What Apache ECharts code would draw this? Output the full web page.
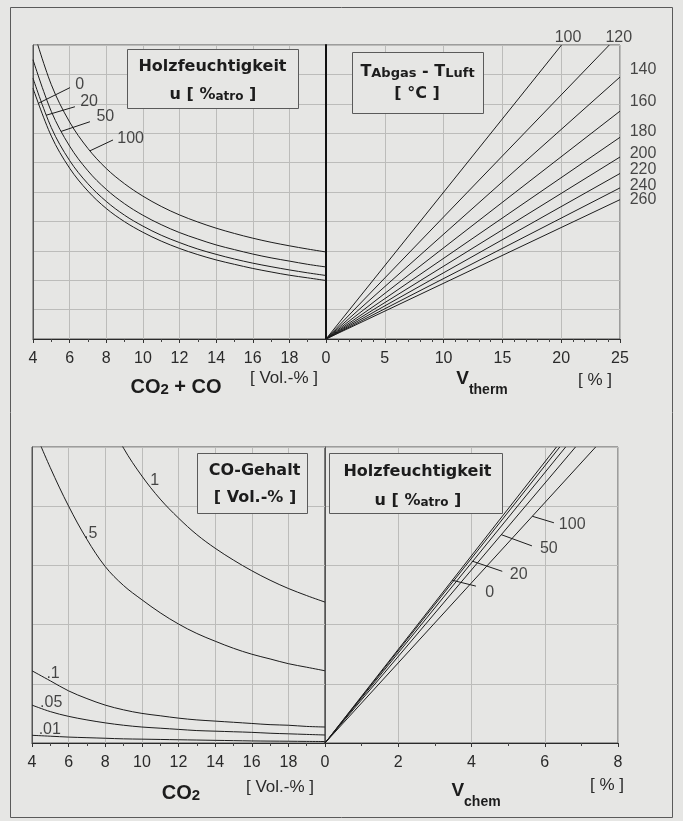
<!DOCTYPE html>
<html><head><meta charset="utf-8">
<script src="https://cdn.jsdelivr.net/npm/echarts@6/dist/echarts.min.js"></script>
<style>html,body{margin:0;padding:0;background:#e6e6e4;}#c{width:683px;height:821px;}</style>
</head><body><div id="c"></div>
<script>
// ---------- DATA ----------
// Top-left: CO2+CO [Vol.-%] vs. auxiliary scale, one curve per wood moisture u [%atro]
const tlX = [4,5,6,7,8,9,10,11,12,13,14,15,16,17,18,19,20];
const tlNames = ['0','20','50','100'];
const tlU0   = [8.53,6.90,5.81,5.03,4.44,3.99,3.63,3.33,3.08,2.87,2.69,2.54,2.40,2.28,2.17,2.08,1.99];
const tlU20  = [8.87,7.19,6.07,5.28,4.68,4.21,3.84,3.53,3.28,3.06,2.88,2.72,2.58,2.46,2.35,2.25,2.16];
const tlU50  = [9.50,7.74,6.56,5.72,5.09,4.60,4.21,3.89,3.62,3.40,3.20,3.04,2.89,2.76,2.65,2.54,2.45];
const tlU100 = [10.54,8.65,7.38,6.48,5.80,5.28,4.86,4.51,4.22,3.98,3.77,3.59,3.43,3.29,3.17,3.06,2.96];
const tlLabelX = [6.55,7.06,7.95,9.33];
const tlLabelY = [8.65,8.08,7.55,6.83];
const tlLeaders = [[4.27,8.01,6.02,8.55],[4.71,7.61,6.29,7.90],[5.53,7.06,7.11,7.39],[7.11,6.40,8.37,6.77]];

// Top-right: V_therm [%], rays for T_Abgas - T_Luft [°C]
const trNames = ['100','120','140','160','180','200','220','240','260'];
const trEndX = [20.03,24.09,25,25,25,25,25,25,25];
const trEndY = [10,10,8.91,7.75,6.86,6.19,5.63,5.14,4.74];
const trLabelX = [20.58,24.9,26.96,26.96,26.96,26.96,26.96,26.96,26.96];
const trLabelY = [10.26,10.26,9.16,8.07,7.05,6.30,5.75,5.21,4.73];

// Bottom-left: CO2 [Vol.-%], one curve per CO content [Vol.-%]
const blX = [4,5,6,7,8,9,10,11,12,13,14,15,16,17,18,19,20];
const blNames = ['1','.5','.1','.05','.01'];
const blCO1   = [null,null,null,null,5.58,4.98,4.51,4.12,3.80,3.52,3.29,3.09,2.91,2.75,2.61,2.49,2.38];
const blCO05  = [5.37,4.65,4.00,3.44,2.98,2.66,2.42,2.20,2.01,1.85,1.72,1.60,1.50,1.42,1.34,1.28,1.22];
const blCO01  = [1.22,1.05,0.88,0.75,0.64,0.56,0.50,0.46,0.42,0.39,0.37,0.35,0.33,0.31,0.30,0.28,0.27];
const blCO005 = [0.64,0.53,0.45,0.39,0.34,0.30,0.27,0.25,0.23,0.21,0.20,0.19,0.18,0.165,0.155,0.145,0.135];
const blCO001 = [0.13,0.115,0.10,0.09,0.08,0.07,0.065,0.06,0.055,0.05,0.045,0.04,0.035,0.032,0.03,0.027,0.025];
const blLabelX = [10.70,7.21,5.15,5.05,4.97];
const blLabelY = [4.43,3.54,1.17,0.69,0.23];

// Bottom-right: V_chem [%], rays for wood moisture u [%atro]
const brLines = ['0','(unlabelled)','20','50','100'];
const brEndX = [6.32,6.41,6.57,6.84,7.39];
const brEndY = [5,5,5,5,5];
const brNames = ['0','20','50','100'];
const brLabelX = [4.50,5.29,6.11,6.75];
const brLabelY = [2.54,2.84,3.29,3.69];
const brLeaders = [[3.47,2.75,4.12,2.65],[4.03,3.07,4.84,2.90],[4.81,3.52,5.65,3.33],[5.66,3.83,6.25,3.72]];

// ---------- STYLE ----------
const BG = '#e6e6e4';
const INK = '#1c1c1c';
const GRIDC = '#bcbcba';
const FONT = '"Liberation Sans", Arial, sans-serif';
const BOXFONT = '"DejaVu Sans", sans-serif';

function pairs(xs, ys){ const out=[]; xs.forEach((x,i)=>{ if(ys[i]!=null) out.push([x,ys[i]]); }); return out; }
function curve(name, xs, ys, gi){
  return {type:'line', name, xAxisIndex:gi, yAxisIndex:gi, data:pairs(xs,ys), symbol:'none',
    smooth:0.35, lineStyle:{color:INK,width:1}, silent:true, z:3, emphasis:{disabled:true}};
}
function ray(name, ex, ey, gi){
  return {type:'line', name, xAxisIndex:gi, yAxisIndex:gi, data:[[0,0],[ex,ey]], symbol:'none',
    lineStyle:{color:INK,width:1}, silent:true, z:3, emphasis:{disabled:true}};
}
function leaders(list, gi){
  return list.map(l=>({type:'line', xAxisIndex:gi, yAxisIndex:gi, data:[[l[0],l[1]],[l[2],l[3]]], symbol:'none',
    lineStyle:{color:INK,width:1}, silent:true, z:3, clip:false, emphasis:{disabled:true}}));
}
function labels(names, xs, ys, gi){
  return {type:'scatter', xAxisIndex:gi, yAxisIndex:gi, symbolSize:0, clip:false, silent:true,
    itemStyle:{color:'rgba(0,0,0,0)'}, emphasis:{disabled:true},
    data:names.map((n,i)=>({name:n, value:[xs[i],ys[i]]})),
    label:{show:true, position:'inside', formatter:'{b}', fontFamily:FONT, fontSize:16, color:INK}, z:6};
}
function xAx(gi,min,max,interval,minorSplit,fmt){
  return {gridIndex:gi, type:'value', min, max, interval,
    axisLine:{show:true, onZero:false, lineStyle:{color:'#2a2a2a', width:1}},
    axisTick:{show:true, length:4, lineStyle:{color:'#333'}},
    minorTick:{show:true, splitNumber:minorSplit, length:3, lineStyle:{color:'#444'}},
    splitLine:{show:true, lineStyle:{color:GRIDC, width:1}},
    axisLabel:{show:true, margin:12, fontFamily:FONT, fontSize:16, color:'#2a2a2a', formatter:fmt}};
}
function yAx(gi,max,lineColor,lineWidth){
  return {gridIndex:gi, type:'value', min:0, max, interval:1,
    axisLine:{show:true, onZero:false, lineStyle:{color:lineColor, width:lineWidth}},
    axisTick:{show:false}, axisLabel:{show:false},
    splitLine:{show:true, lineStyle:{color:GRIDC, width:1}}};
}

const series = [];
[tlU0,tlU20,tlU50,tlU100].forEach((ys,i)=>series.push(curve('u='+tlNames[i], tlX, ys, 0)));
series.push(...leaders(tlLeaders,0));
series.push(labels(tlNames, tlLabelX, tlLabelY, 0));
trNames.forEach((n,i)=>series.push(ray('dT='+n, trEndX[i], trEndY[i], 1)));
series.push(labels(trNames, trLabelX, trLabelY, 1));
[blCO1,blCO05,blCO01,blCO005,blCO001].forEach((ys,i)=>series.push(curve('CO='+blNames[i], blX, ys, 2)));
series.push(labels(blNames, blLabelX, blLabelY, 2));
brLines.forEach((n,i)=>series.push(ray('u='+n, brEndX[i], brEndY[i], 3)));
series.push(...leaders(brLeaders,3));
series.push(labels(brNames, brLabelX, brLabelY, 3));

function box(x,y,w,h){ return {type:'rect', shape:{x:x+0.5,y:y+0.5,width:w,height:h}, style:{fill:BG, stroke:'#5a5a5a', lineWidth:1}, z:20, silent:true}; }
function txt(x,y,text,rich){
  return {type:'text', x, y, z:21, silent:true,
    style:{text, rich, align:'center', verticalAlign:'middle', fill:INK, fontFamily:BOXFONT, fontWeight:'bold', fontSize:16}};
}
const boxRich = {
  a:{fontFamily:BOXFONT, fontWeight:'bold', fontSize:16, lineHeight:20, verticalAlign:'bottom', fill:INK},
  s:{fontFamily:BOXFONT, fontWeight:'bold', fontSize:12, lineHeight:19, verticalAlign:'bottom', fill:INK},
  t:{fontFamily:BOXFONT, fontWeight:'bold', fontSize:13, lineHeight:19, verticalAlign:'bottom', fill:INK}
};
const titleRich = {
  m:{fontFamily:FONT, fontWeight:'bold', fontSize:20, lineHeight:22, verticalAlign:'bottom', fill:INK},
  s:{fontFamily:FONT, fontWeight:'bold', fontSize:15, lineHeight:16, verticalAlign:'bottom', fill:INK},
  v:{fontFamily:FONT, fontWeight:'bold', fontSize:19, lineHeight:28, verticalAlign:'top', fill:INK},
  w:{fontFamily:FONT, fontWeight:'bold', fontSize:14, lineHeight:17, verticalAlign:'bottom', fill:INK}
};
function unit(x,y,text){
  return {type:'text', x, y, z:21, silent:true, style:{text, align:'center', verticalAlign:'middle', fill:'#2a2a2a', fontFamily:FONT, fontSize:17}};
}

const graphic = [
  {type:'rect', shape:{x:10.5,y:7.5,width:662,height:810}, style:{fill:'none', stroke:'#5a5a5a', lineWidth:1}, z:1, silent:true},
  box(127,49,171,59),
  txt(212.5,67,'Holzfeuchtigkeit'),
  txt(213,93,'{a|u [ %}{s|atro}{a| ]}',boxRich),
  box(352,52,131,61),
  txt(417.5,70,'{a|T}{t|Abgas}{a| - T}{t|Luft}',boxRich),
  txt(417,94,'[ °C ]'),
  box(197,453,110,60),
  txt(254.5,471,'CO-Gehalt'),
  txt(255,498,'[ Vol.-% ]'),
  box(329,453,173,60),
  txt(417.5,472,'Holzfeuchtigkeit'),
  txt(418,499,'{a|u [ %}{s|atro}{a| ]}',boxRich),
  // axis titles
  {type:'text', x:176, y:386, z:21, silent:true, style:{text:'{m|CO}{s|2}{m| + CO}', rich:titleRich, align:'center', verticalAlign:'middle'}},
  unit(284,378,'[ Vol.-% ]'),
  {type:'text', x:482, y:383, z:21, silent:true, style:{text:'{v|V}{w|therm}', rich:titleRich, align:'center', verticalAlign:'middle'}},
  unit(595,380,'[ % ]'),
  {type:'text', x:181, y:792, z:21, silent:true, style:{text:'{m|CO}{s|2}', rich:titleRich, align:'center', verticalAlign:'middle'}},
  unit(280,787,'[ Vol.-% ]'),
  {type:'text', x:476, y:795, z:21, silent:true, style:{text:'{v|V}{w|chem}', rich:titleRich, align:'center', verticalAlign:'middle'}},
  unit(607,785,'[ % ]')
];

const option = {
  backgroundColor: BG,
  animation:false,
  grid:[
    {left:33, top:45, width:293, height:294, show:true, borderColor:'#555', borderWidth:1},
    {left:326, top:45, width:294, height:294, show:true, borderColor:'#555', borderWidth:1},
    {left:32, top:447, width:293, height:296, show:true, borderColor:'#555', borderWidth:1},
    {left:325, top:447, width:293, height:296, show:true, borderColor:'#555', borderWidth:1}
  ],
  xAxis:[
    xAx(0,4,20,2,2,v=>v===20?'0':String(v)),
    xAx(1,0,25,5,5,v=>v===0?'':String(v)),
    xAx(2,4,20,2,2,v=>v===20?'0':String(v)),
    xAx(3,0,8,2,2,v=>v===0?'':String(v))
  ],
  yAxis:[
    yAx(0,10,'#555',1),
    yAx(1,10,'#111',2),
    yAx(2,5,'#555',1),
    yAx(3,5,'#555',1)
  ],
  series,
  graphic
};
const chart = echarts.init(document.getElementById('c'), null, {renderer:'canvas'});
chart.setOption(option);
</script></body></html>
